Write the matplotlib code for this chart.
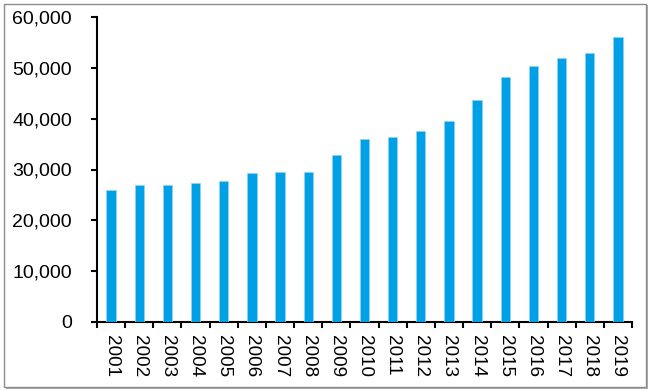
import matplotlib
matplotlib.use("Agg")
import matplotlib.pyplot as plt
from matplotlib.patches import Rectangle
from matplotlib.ticker import FuncFormatter, FixedLocator
import numpy as np

plt.rcParams['font.family'] = ['Liberation Sans', 'DejaVu Sans']

years = [str(y) for y in range(2001, 2020)]
values = [25950, 26900, 26900, 27300, 27700, 29250, 29500, 29600, 32850, 36000,
          36400, 37500, 39600, 43700, 48100, 50400, 51900, 52900, 56100]
yticks = [0, 10000, 20000, 30000, 40000, 50000, 60000]

fig = plt.figure(figsize=(6.5, 3.91), dpi=100)
# frame with shadow
fig.patches.append(Rectangle((6/650, 1 - 389/391), 642/650, 384/391, transform=fig.transFigure,
                             facecolor='#b0b0b0', edgecolor='none', zorder=-2))
fig.patches.append(Rectangle((4/650, 1 - 387/391), 642/650, 383/391, transform=fig.transFigure,
                             facecolor='white', edgecolor='#8c8c8c', linewidth=1.0, zorder=-1))

ax = fig.add_axes([97/650, 1 - 322/391, 535/650, 305/391])
ax.set_facecolor('none')
x = np.arange(len(years))
ax.bar(x, values, width=0.33, color='#00A0E6', edgecolor='#8fd6f7', linewidth=0.5, zorder=3)

ax.set_xlim(-0.5, len(years) - 0.5)
ax.set_ylim(0, 60000)
ax.set_yticks(yticks)
ax.yaxis.set_major_formatter(FuncFormatter(lambda v, p: f"{int(v):,}"))
ax.set_xticks(x)
ax.set_xticklabels(years, rotation=270)
ax.xaxis.set_minor_locator(FixedLocator(np.arange(-0.5, len(years), 1.0)))

for s in ['top', 'right']:
    ax.spines[s].set_visible(False)
for s in ['left', 'bottom']:
    ax.spines[s].set_linewidth(1.5)
    ax.spines[s].set_color('black')

ax.tick_params(axis='x', which='major', length=0, pad=9.5, labelsize=13.6)
ax.tick_params(axis='x', which='minor', length=4, width=1.5, direction='out')
ax.tick_params(axis='y', which='major', length=4.5, width=1.5, direction='out', pad=13.5, labelsize=14)

fig.savefig('out.png', dpi=100)
